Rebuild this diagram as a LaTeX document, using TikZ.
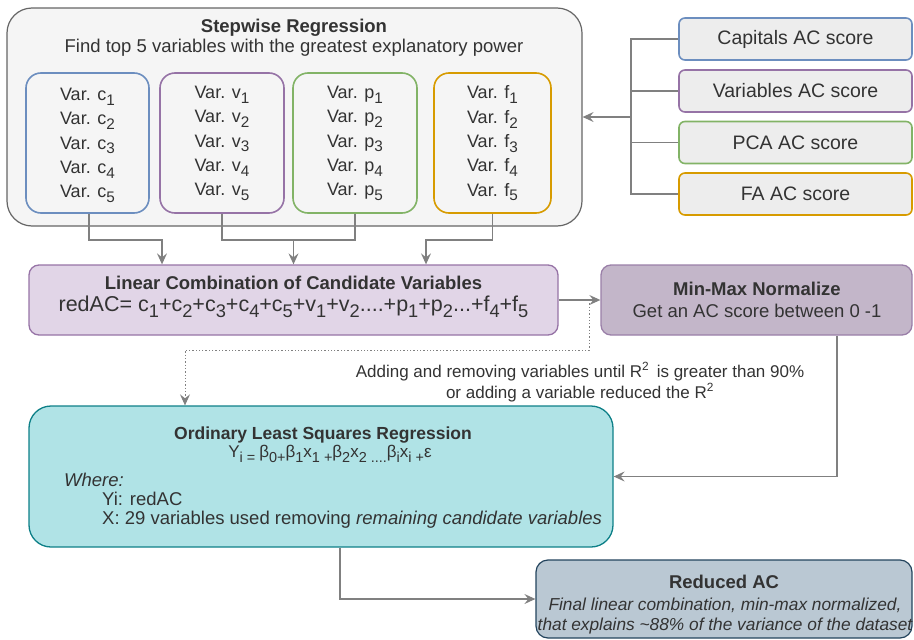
\documentclass[tikz,border=0pt]{standalone}
\usepackage{fontspec}
\setmainfont{Liberation Sans}
\usetikzlibrary{arrows.meta,calc}
\definecolor{txt}{HTML}{333333}
\definecolor{linec}{HTML}{808080}
\definecolor{cblue}{HTML}{6C8EBF}
\definecolor{cpurp}{HTML}{9673A6}
\definecolor{cgreen}{HTML}{82B366}
\definecolor{corange}{HTML}{D79B00}
\definecolor{lilac}{HTML}{E1D5E7}
\definecolor{mmfill}{HTML}{C3B6C9}
\definecolor{mmdraw}{HTML}{9A7FA8}
\definecolor{tealfill}{HTML}{B0E3E6}
\definecolor{tealdraw}{HTML}{0E8088}
\definecolor{redfill}{HTML}{BAC8D3}
\definecolor{reddraw}{HTML}{23445D}
\newcommand\subl[1]{\raisebox{-0.5ex}{\scalebox{0.85}{#1}}}
\tikzset{
  varbox/.style={rectangle, rounded corners=15pt, line width=1.6pt, minimum width=#1, minimum height=140pt, align=center, text=txt, font=\fontsize{18}{24.3}\selectfont, inner sep=0pt},
  vartext/.style={text=txt, align=center, inner sep=0pt, font=\fontsize{18}{24.3}\selectfont},
  scorebox/.style={rectangle, rounded corners=6pt, line width=1.6pt, fill=black!7, minimum width=233pt, minimum height=42pt, text=txt, font=\fontsize{19.5}{22}\selectfont},
  conn/.style={draw=linec, line width=1.3pt},
  arr/.style={conn, -{Stealth[length=11pt,width=10pt,inset=4pt]}},
  lbl/.style={text=txt, inner sep=0pt, align=center}
}
\begin{document}
\begin{tikzpicture}[x=1pt,y=-1pt]
\useasboundingbox (0,0) rectangle (914,640);

% Stepwise box
\node[rectangle, rounded corners=25pt, fill=black!4, draw=black!60, line width=1.2pt, minimum width=575pt, minimum height=218pt] (sw) at (294.5,117) {};
\node[lbl, font=\fontsize{18.5}{19.5}\selectfont] (swt) at (294,37.5) {\textbf{Stepwise Regression}\\Find top 5 variables with the greatest explanatory power};

\node[varbox=123pt, draw=cblue] (c) at (87.5,143) {};
\node[varbox=124pt, draw=cpurp] (v) at (222,143) {};
\node[varbox=124pt, draw=cgreen] (p) at (355,143) {};
\node[varbox=117pt, draw=corange] (f) at (492.5,143) {};
\node[vartext] (ct) at (87.5,145.5) {Var. c\subl{1}\\Var. c\subl{2}\\Var. c\subl{3}\\Var. c\subl{4}\\Var. c\subl{5}};
\node[vartext] (vt) at (222,143.5) {Var. v\subl{1}\\Var. v\subl{2}\\Var. v\subl{3}\\Var. v\subl{4}\\Var. v\subl{5}};
\node[vartext] (pt) at (355,143.5) {Var. p\subl{1}\\Var. p\subl{2}\\Var. p\subl{3}\\Var. p\subl{4}\\Var. p\subl{5}};
\node[vartext] (ft) at (492.5,143.5) {Var. f\subl{1}\\Var. f\subl{2}\\Var. f\subl{3}\\Var. f\subl{4}\\Var. f\subl{5}};

% Score boxes
\node[scorebox, draw=cblue] (s1) at (795.5,39) {Capitals AC score};
\node[scorebox, draw=cpurp] (s2) at (795.5,91) {Variables AC score};
\node[scorebox, draw=cgreen] (s3) at (795.5,142.5) {PCA AC score};
\node[scorebox, draw=corange] (s4) at (795.5,194) {FA AC score};

% Linear combination
\node[rectangle, rounded corners=10pt, fill=lilac, draw=cpurp, line width=1.3pt, minimum width=529pt, minimum height=70pt] (lin) at (293.5,300) {};
\node[lbl, font=\fontsize{18.5}{20}\selectfont\bfseries] (lint) at (293.5,283) {Linear Combination of Candidate Variables};
\node[lbl, font=\fontsize{21.5}{22}\selectfont] (linf) at (293.5,307) {redAC= c\subl{1}+c\subl{2}+c\subl{3}+c\subl{4}+c\subl{5}+v\subl{1}+v\subl{2}....+p\subl{1}+p\subl{2}...+f\subl{4}+f\subl{5}};

% Min-max
\node[rectangle, rounded corners=10pt, fill=mmfill, draw=mmdraw, line width=1.3pt, minimum width=311pt, minimum height=70pt] (mm) at (756.5,300) {};
\node[lbl, font=\fontsize{18.5}{22}\selectfont] (mmt) at (757,300) {\textbf{Min-Max Normalize}\\Get an AC score between 0 -1};

% OLS
\node[rectangle, rounded corners=22pt, fill=tealfill, draw=tealdraw, line width=1.3pt, minimum width=584pt, minimum height=141pt] (ols) at (321,476.5) {};
\node[lbl, font=\fontsize{17.5}{20}\selectfont\bfseries] (olst) at (323,435) {Ordinary Least Squares Regression};
\node[lbl, font=\fontsize{17}{18}\selectfont] (olsf) at (330,454) {Y\subl{i = }β\subl{0+}β\subl{1}x\subl{1 +}β\subl{2}x\subl{2 ....}β\subl{i}x\subl{i +}ε};
\node[lbl, anchor=west, font=\fontsize{18.5}{20}\selectfont\itshape] (where) at (64,480) {Where:};
\node[lbl, anchor=west, font=\fontsize{18.5}{20}\selectfont] (yi) at (102,499) {Yi: redAC};
\node[lbl, anchor=west, font=\fontsize{18.5}{20}\selectfont] (xx) at (102,520) {X: 29 variables used removing \textit{remaining candidate variables}};

% Reduced AC
\node[rectangle, rounded corners=12pt, fill=redfill, draw=reddraw, line width=1.2pt, minimum width=376pt, minimum height=78pt] (red) at (724,599) {};
\node[lbl, font=\fontsize{18.5}{20}\selectfont\bfseries] (redt) at (724,582) {Reduced AC};
\node[lbl, font=\fontsize{17.3}{20}\selectfont\itshape] (redb) at (725,616) {Final linear combination, min-max normalized,\\that explains \textasciitilde88\% of the variance of the dataset};

% label
\node[lbl, font=\fontsize{17}{21}\selectfont] (note) at (580,382) {Adding and removing variables until R\textsuperscript{2}\, is greater than 90\%\\or adding a variable reduced the R\textsuperscript{2}};

% connectors from var boxes
\draw[arr] (c.south -| 89,0) |- (162,240) -- ([xshift=-131.5pt]lin.north);
\draw[conn] (v.south) |- (p.south |- 0,240) -- (p.south);
\draw[arr] (lin.north |- 0,240) -- (lin.north);
\draw[arr] (f.south) |- (426,240) -- ([xshift=132.5pt]lin.north);

% score bus
\draw[conn] (s1.west) -| (631,117);
\draw[conn] (s2.west) -| (631,117);
\draw[conn] (s3.west) -| (631,117);
\draw[conn] (s4.west) -| (631,117);
\draw[arr] (631,117) -- (sw.east);

% linear -> minmax
\draw[arr] (lin.east) -- (mm.west);

% dotted
\coordinate (dstart) at (589,300);
\coordinate (dturn) at (185,350);
\draw[arr, dotted, line width=1pt] (dstart) |- (dturn) -- (dturn |- ols.north);

% minmax -> ols
\draw[arr] ([xshift=80.5pt]mm.south) |- (ols.east);

% ols -> reduced
\draw[arr] ([xshift=19pt]ols.south) |- (red.west);
\end{tikzpicture}
\end{document}
